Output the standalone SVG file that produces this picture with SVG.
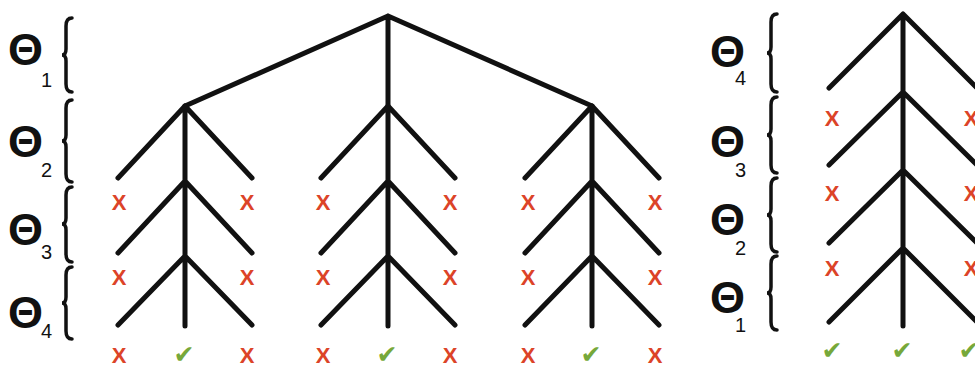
<svg xmlns="http://www.w3.org/2000/svg" width="975" height="366" viewBox="0 0 975 366">
  <style>
    .edge { stroke: #111; stroke-width: 5; stroke-linecap: round; stroke-linejoin: round; fill: none; }
    .brace { stroke: #111; stroke-width: 3.5; stroke-linecap: round; fill: none; }
    .theta { font-family: "Liberation Sans", Arial, sans-serif; font-weight: bold; font-size: 45px; fill: #111; }
    .sub { font-family: "Liberation Sans", Arial, sans-serif; font-size: 20px; fill: #111; }
    .x { font-family: "Liberation Sans", Arial, sans-serif; font-weight: bold; font-size: 22px; fill: #dc4328; text-anchor: middle; }
    .ok { font-family: "DejaVu Sans", sans-serif; font-size: 25px; fill: #76a83a; text-anchor: middle; }
  </style>
  <rect width="975" height="366" fill="#fff"/>

  <!-- parameter labels, left tree -->
  <g id="label-left-1"><text class="theta" x="8" y="65">Θ</text><text class="sub" x="41" y="87">1</text></g>
  <g id="label-left-2"><text class="theta" x="8" y="157">Θ</text><text class="sub" x="41" y="177">2</text></g>
  <g id="label-left-3"><text class="theta" x="8" y="245">Θ</text><text class="sub" x="41" y="259">3</text></g>
  <g id="label-left-4"><text class="theta" x="8" y="328">Θ</text><text class="sub" x="41" y="338">4</text></g>

  <!-- parameter labels, right tree -->
  <g id="label-right-4"><text class="theta" x="710" y="67">Θ</text><text class="sub" x="735" y="85">4</text></g>
  <g id="label-right-3"><text class="theta" x="710" y="157">Θ</text><text class="sub" x="735" y="177">3</text></g>
  <g id="label-right-2"><text class="theta" x="710" y="235">Θ</text><text class="sub" x="735" y="255">2</text></g>
  <g id="label-right-1"><text class="theta" x="710" y="313">Θ</text><text class="sub" x="735" y="332">1</text></g>

  <!-- braces -->
  <g id="braces">
    <path class="brace" d="M72 18 Q66 18 66 26 L66 49 Q66 55 62 55 Q66 55 66 61 L66 84 Q66 92 72 92"/>
    <path class="brace" d="M72 100 Q66 100 66 108 L66 135 Q66 141 62 141 Q66 141 66 147 L66 174 Q66 182 72 182"/>
    <path class="brace" d="M72 187 Q66 187 66 195 L66 218 Q66 224 62 224 Q66 224 66 230 L66 254 Q66 262 72 262"/>
    <path class="brace" d="M72 267 Q66 267 66 275 L66 297 Q66 303 62 303 Q66 303 66 309 L66 331 Q66 339 72 339"/>

    <path class="brace" d="M777 14 Q771 14 771 22 L771 47 Q771 53 767 53 Q771 53 771 59 L771 84 Q771 92 777 92"/>
    <path class="brace" d="M777 97 Q771 97 771 105 L771 129 Q771 135 767 135 Q771 135 771 141 L771 165 Q771 173 777 173"/>
    <path class="brace" d="M777 178 Q771 178 771 186 L771 209 Q771 215 767 215 Q771 215 771 221 L771 244 Q771 252 777 252"/>
    <path class="brace" d="M777 256 Q771 256 771 264 L771 287 Q771 293 767 293 Q771 293 771 299 L771 322 Q771 330 777 330"/>
  </g>

  <!-- tree edges -->
  <g id="connectors">
    <!-- left tree: root split -->
    <path class="edge" d="M185 106 L388 16 L592 106 M388 16 L388 106"/>
    <!-- left subtree -->
    <path class="edge" d="M185 106 L185 326
      M118 178 L185 106 L252 178
      M118 253 L185 181 L252 253
      M118 325 L185 256 L252 325"/>
    <!-- middle subtree -->
    <path class="edge" d="M388 106 L388 326
      M321 178 L388 106 L455 178
      M321 253 L388 181 L455 253
      M321 325 L388 256 L455 325"/>
    <!-- right subtree -->
    <path class="edge" d="M592 106 L592 326
      M525 178 L592 106 L659 178
      M525 253 L592 181 L659 253
      M525 325 L592 256 L659 325"/>
    <!-- right tree -->
    <path class="edge" d="M903 14 L903 326
      M829 88 L903 14 L977 88
      M829 165 L903 92 L977 165
      M829 243 L903 170 L977 243
      M829 322 L903 248 L977 322"/>
  </g>

  <!-- outcome marks -->
  <g id="marks-left">
    <text class="x" x="119" y="210">X</text><text class="x" x="247" y="210">X</text>
    <text class="x" x="119" y="285">X</text><text class="x" x="247" y="285">X</text>
    <text class="x" x="119" y="363">X</text><text class="ok" x="184" y="363">✔</text><text class="x" x="247" y="363">X</text>

    <text class="x" x="323" y="210">X</text><text class="x" x="450" y="210">X</text>
    <text class="x" x="323" y="285">X</text><text class="x" x="450" y="285">X</text>
    <text class="x" x="323" y="363">X</text><text class="ok" x="387" y="363">✔</text><text class="x" x="450" y="363">X</text>

    <text class="x" x="528" y="210">X</text><text class="x" x="655" y="210">X</text>
    <text class="x" x="528" y="285">X</text><text class="x" x="655" y="285">X</text>
    <text class="x" x="528" y="363">X</text><text class="ok" x="591" y="363">✔</text><text class="x" x="655" y="363">X</text>
  </g>
  <g id="marks-right">
    <text class="x" x="832" y="126">X</text><text class="x" x="971" y="126">X</text>
    <text class="x" x="832" y="201">X</text><text class="x" x="971" y="201">X</text>
    <text class="x" x="832" y="276">X</text><text class="x" x="971" y="276">X</text>
    <text class="ok" x="832" y="359">✔</text><text class="ok" x="902" y="359">✔</text><text class="ok" x="969" y="359">✔</text>
  </g>
</svg>
